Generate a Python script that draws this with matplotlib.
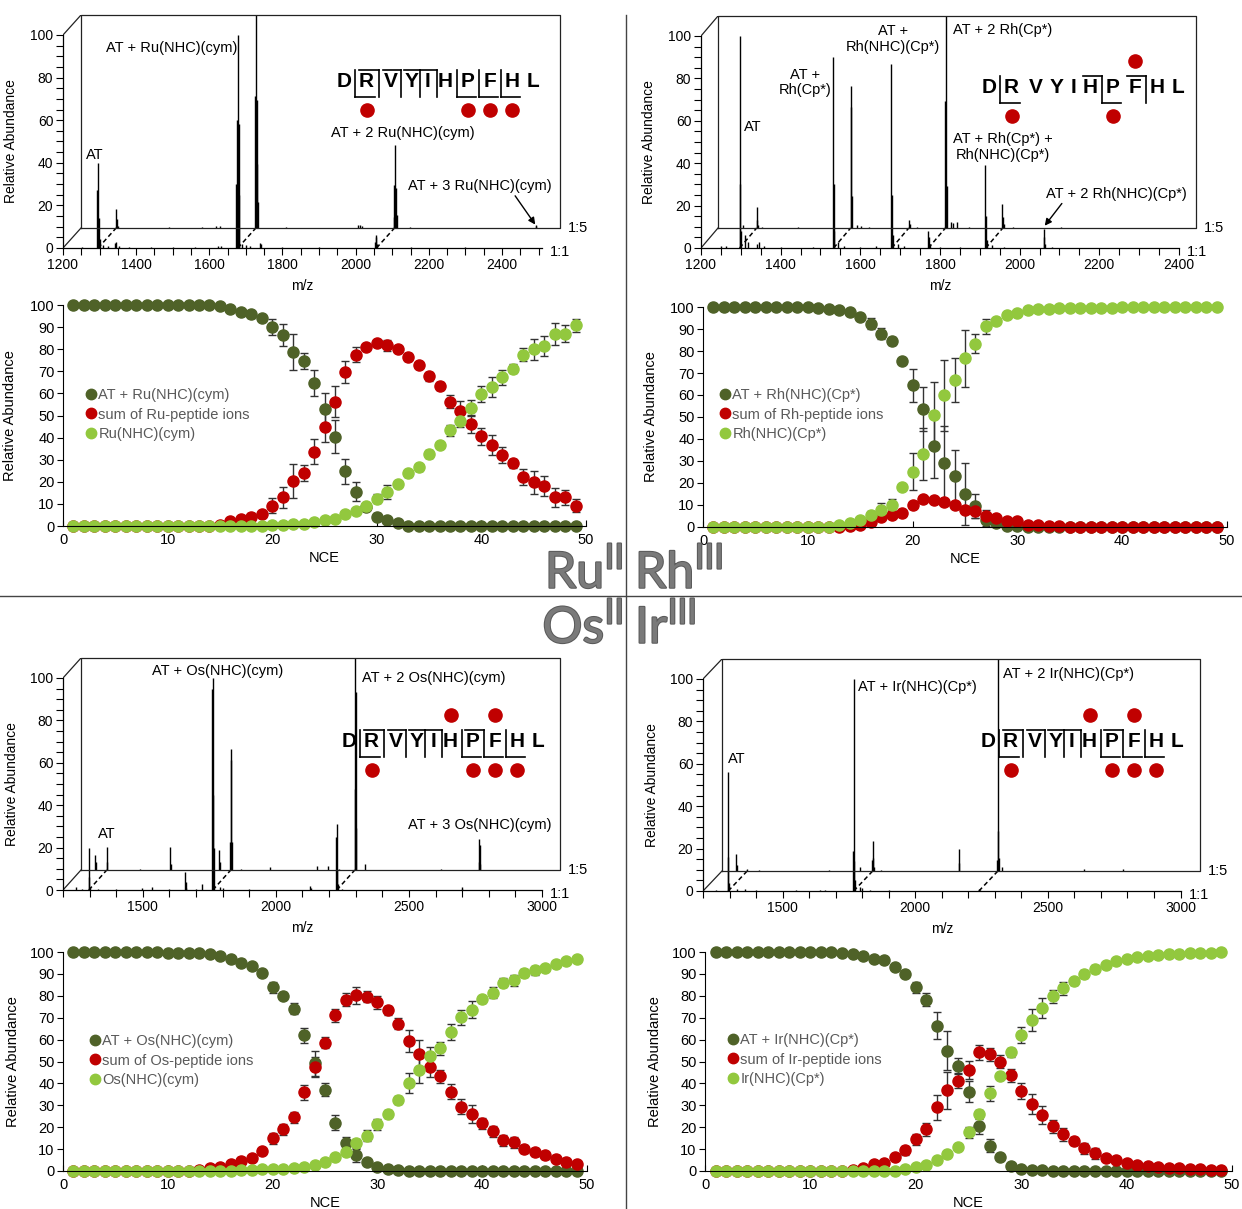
import numpy as np
import matplotlib
matplotlib.use('Agg')
import matplotlib.pyplot as plt
from matplotlib.lines import Line2D
import matplotlib.patheffects as pe

W, H = 1242, 1209
plt.rcParams['font.family'] = ['Liberation Sans', 'DejaVu Sans']

DARK = '#4f6228'
RED = '#c00000'
LIGHT = '#92c83e'

nce = np.arange(1, 50)

# ---------------- NCE curves (NCE 1..49) ----------------
ru_at = [100, 100, 100, 100, 100, 100, 100, 100, 100, 100,
         100, 100, 100, 100, 99.5, 98, 97, 95.8, 94, 90,
         86.4, 78.8, 74.7, 64.8, 53.1, 40.4, 24.7, 15.6, 8.8, 4.2,
         2.7, 1.2, 0, 0, 0, 0, 0, 0, 0, 0,
         0, 0, 0, 0, 0, 0, 0, 0, 0]
ru_at_err = [0, 0, 0, 0, 0, 0, 0, 0, 0, 0,
             0, 0, 0, 0, 0, 0, 0, 1.5, 1, 3.8,
             5, 8.3, 3.5, 6, 7, 7.5, 5.7, 4.2, 1.5, 1.5,
             1, 0, 0, 0, 0, 0, 0, 0, 0, 0,
             0, 0, 0, 0, 0, 0, 0, 0, 0]
ru_pep = [0, 0, 0, 0, 0, 0, 0, 0, 0, 0,
          0, 0, 0, 0, 0.5, 2.3, 3, 4.2, 5.3, 9.2,
          13, 20.4, 23.9, 33.7, 44.6, 56.3, 69.6, 77.5, 81, 82.8,
          81.7, 79.9, 76.4, 73, 67.8, 63.2, 56.3, 51.9, 46.1, 40.5,
          36.8, 32.2, 28.3, 22.1, 19.7, 18.2, 12.9, 12.9, 9.2]
ru_pep_err = [0, 0, 0, 0, 0, 0, 0, 0, 0, 0,
              0, 0, 0, 0, 0, 0, 0, 1.5, 1, 3.5,
              4.8, 7.8, 3.5, 5.5, 6.5, 7, 5, 3.5, 1, 1.5,
              2.5, 1, 1.8, 1, 2, 1.8, 3, 4.5, 4, 4,
              4.5, 3.5, 2, 3.5, 5, 4.5, 4.5, 3.5, 3]
ru_free = [0, 0, 0, 0, 0, 0, 0, 0, 0, 0,
           0, 0, 0, 0, 0, 0, 0, 0, 0.2, 0.4,
           0.5, 1, 1.1, 1.7, 2.7, 3, 5.3, 6.8, 9.1, 12.4,
           15.4, 18.9, 23.8, 26.5, 32.4, 36.6, 43.4, 47.7, 53.3, 59.8,
           62.8, 67.3, 71.1, 77.5, 79.9, 81.4, 86.7, 87.1, 90.8]
ru_free_err = [0, 0, 0, 0, 0, 0, 0, 0, 0, 0,
               0, 0, 0, 0, 0, 0, 0, 0, 0, 0,
               0, 0, 0, 0, 0, 0, 0, 0, 1.5, 2,
               3, 1, 1.5, 1.5, 1.8, 1.5, 2.5, 3, 3.5, 3.5,
               4.5, 3.5, 2, 3, 4.8, 4.5, 5, 3.8, 3]

rh_at = [100, 100, 100, 100, 100, 100, 100, 100, 100, 100,
         99.5, 99, 98.5, 97.7, 95.5, 92.4, 87.9, 84.6, 75.4, 64.5,
         53.6, 36.6, 29, 23, 15.1, 9.4, 3.3, 1.8, 0.6, 0.3,
         0, 0, 0, 0, 0, 0, 0, 0, 0, 0,
         0, 0, 0, 0, 0, 0, 0, 0, 0]
rh_at_err = [0, 0, 0, 0, 0, 0, 0, 0, 0, 0,
             0, 0, 0, 0, 0, 2.5, 2.5, 1.8, 0, 7.5,
             10, 14.5, 17, 12, 14, 5.5, 3, 0, 0, 0,
             0, 0, 0, 0, 0, 0, 0, 0, 0, 0,
             0, 0, 0, 0, 0, 0, 0, 0, 0]
rh_pep = [0, 0, 0, 0, 0, 0, 0, 0, 0, 0,
          0, 0, 0.2, 0.5, 1, 2.3, 4.4, 5.6, 6.3, 10.1,
          12.7, 12.4, 11.2, 10.1, 7.9, 7.1, 5.1, 4.1, 2.9, 2.6,
          0.9, 0.8, 0.6, 0.3, 0.2, 0.2, 0.2, 0.2, 0.2, 0.2,
          0.2, 0.2, 0.2, 0.2, 0.2, 0.2, 0.2, 0.2, 0.2]
rh_pep_err = [0, 0, 0, 0, 0, 0, 0, 0, 0, 0,
              0, 0, 0, 0, 0, 0, 0, 0, 0, 0,
              1.5, 1, 0, 0, 0, 3, 2.5, 1.5, 0, 0,
              0, 0, 0, 0, 0, 0, 0, 0, 0, 0,
              0, 0, 0, 0, 0, 0, 0, 0, 0]
rh_free = [0, 0, 0, 0, 0, 0, 0, 0, 0, 0,
           0, 0.1, 0.8, 1.8, 3.3, 5.3, 7.9, 10.1, 18.1, 25.2,
           33.2, 50.9, 59.8, 66.6, 76.7, 83.4, 91.2, 93.7, 96.5, 97.4,
           98.8, 99, 99, 99.5, 99.5, 99.6, 99.7, 99.7, 99.7, 99.8,
           99.8, 99.8, 99.8, 99.9, 99.9, 99.9, 99.9, 99.9, 99.9]
rh_free_err = [0, 0, 0, 0, 0, 0, 0, 0, 0, 0,
               0, 0, 0, 0, 0, 1.8, 3, 2.5, 0, 8.5,
               12, 15, 16, 10, 13, 4.5, 3.5, 1.5, 0, 0,
               0, 0, 0, 0, 0, 0, 0, 0, 0, 0,
               0, 0, 0, 0, 0, 0, 0, 0, 0]

os_at = [100, 100, 100, 100, 100, 100, 100, 100, 100, 99.7,
         99.7, 99.7, 99.6, 98.9, 98.2, 96.8, 95.1, 93.6, 90.4, 84,
         80.1, 74, 62, 49.1, 37.2, 22, 12.9, 7.1, 4, 1.7,
         0.8, 0.4, 0, 0, 0, 0, 0, 0, 0, 0,
         0, 0, 0, 0, 0, 0, 0, 0, 0]
os_at_err = [0, 0, 0, 0, 0, 0, 0, 0, 0, 0,
             0, 0, 0, 0, 0, 0, 1.5, 1, 1, 2.5,
             1.5, 2.5, 3.5, 5.5, 3, 3.5, 2.5, 3, 1, 0.5,
             0, 0, 0, 0, 0, 0, 0, 0, 0, 0,
             0, 0, 0, 0, 0, 0, 0, 0, 0]
os_pep = [0, 0, 0, 0, 0, 0, 0, 0, 0, 0,
          0.1, 0.2, 0.5, 1.4, 1.8, 3, 4.6, 5.9, 9, 15,
          19, 24.6, 35.9, 47.6, 58.5, 71.1, 78.3, 80.2, 79.5, 77,
          73.4, 67.3, 59.4, 53.6, 47.3, 43.3, 36.2, 29.3, 26.1, 21.9,
          18.2, 14.1, 13.1, 10, 8.7, 7.1, 5.6, 4.1, 3.2]
os_pep_err = [0, 0, 0, 0, 0, 0, 0, 0, 0, 0,
              0, 0, 0, 0, 0, 0, 2, 1.5, 1, 2.5,
              2.5, 2.5, 3.5, 4.5, 2.5, 3, 3, 4, 2.5, 3,
              2, 2.5, 5, 6, 4.5, 3, 3.5, 3.5, 4, 2.5,
              2.5, 2.5, 2.5, 2, 2, 1.5, 1.5, 1.5, 1.5]
os_free = [0, 0, 0, 0, 0, 0, 0, 0, 0, 0,
           0, 0, 0, 0, 0.1, 0.2, 0.3, 0.5, 0.7, 0.7,
           0.8, 1.4, 2, 2.9, 4, 6.5, 8.8, 12.6, 16.1, 21.3,
           26, 32.4, 40.3, 46.1, 52.4, 56.1, 63.4, 70.2, 73.7, 78.4,
           81.5, 85.9, 87.1, 90.4, 91.6, 92.7, 94.4, 95.9, 97]
os_free_err = [0, 0, 0, 0, 0, 0, 0, 0, 0, 0,
               0, 0, 0, 0, 0, 0, 0, 0, 0, 0,
               0, 0, 0, 0, 0, 0, 0, 2, 2.5, 2.5,
               1.8, 2, 4.5, 6, 4, 3, 3.5, 3.5, 4, 1.5,
               2.5, 2, 2.5, 2, 2, 1, 1, 1.5, 1]

ir_at = [100, 100, 100, 100, 100, 100, 100, 100, 100, 100,
         100, 100, 99.5, 99, 98, 96.8, 96.2, 93.1, 90, 84,
         78.3, 66.4, 55, 47.9, 36.3, 20.5, 11.6, 6.4, 2.1, 1.1,
         0.5, 0.3, 0, 0, 0, 0, 0, 0, 0, 0,
         0, 0, 0, 0, 0, 0, 0, 0, 0]
ir_at_err = [0, 0, 0, 0, 0, 0, 0, 0, 0, 0,
             0, 0, 0, 0, 0, 0, 0, 0, 1.5, 2.5,
             3, 6, 9, 3.5, 5, 3.5, 3, 0, 0, 0,
             0, 0, 0, 0, 0, 0, 0, 0, 0, 0,
             0, 0, 0, 0, 0, 0, 0, 0, 0]
ir_pep = [0, 0, 0, 0, 0, 0, 0, 0, 0, 0,
          0, 0, 0.2, 0.6, 1.5, 3.1, 3.8, 6.6, 9.5, 14.5,
          19.1, 29, 36.9, 41.2, 46.1, 54.2, 53.3, 49.9, 43.8, 36.6,
          30.7, 25.5, 20.5, 16.8, 13.7, 10.4, 8.2, 6, 4.9, 3.7,
          2.6, 2.1, 1.8, 1.5, 1.4, 0.9, 0.8, 0.6, 0.6]
ir_pep_err = [0, 0, 0, 0, 0, 0, 0, 0, 0, 0,
              0, 0, 0, 0, 0, 0, 0, 0, 2, 2.5,
              3, 5.5, 8.5, 3.5, 4, 3.5, 3, 3, 3, 3.5,
              4.5, 4, 3, 3, 2, 2.5, 2.5, 0, 0, 0,
              0, 0, 0, 0, 0, 0, 0, 0, 0]
ir_free = [0, 0, 0, 0, 0, 0, 0, 0, 0, 0,
           0, 0, 0, 0, 0, 0, 0, 0.1, 0.8, 1.8,
           2.6, 4.9, 7.9, 11, 17.6, 25.8, 35.4, 43.5, 54.2, 62.1,
           69, 74.5, 79.7, 83.4, 86.6, 90, 92.2, 94, 95.7, 96.8,
           97.7, 98, 98.5, 98.9, 99.2, 99.5, 99.6, 99.7, 99.8]
ir_free_err = [0, 0, 0, 0, 0, 0, 0, 0, 0, 0,
               0, 0, 0, 0, 0, 0, 0, 0, 0, 0,
               0, 0, 0, 0, 2.5, 2, 3.5, 0, 2, 3.5,
               5, 4.5, 3, 3, 1.5, 2, 2, 1.5, 0, 0,
               0, 0, 0, 0, 0, 0, 0, 0, 0]

# ---------------- mass spectra: front trace = 1:1, back trace = 1:5 ----------------
ru_front_mz = [1251, 1294, 1296, 1298, 1300, 1310, 1322, 1341, 1346, 1352, 1380, 1440, 1500, 1560,
               1625, 1632, 1674, 1676, 1678, 1680, 1682, 1690, 1700, 1712, 1738, 1741, 1800, 1900,
               2053, 2055, 2057, 2059, 2150, 2300]
ru_front_ab = [0.5, 27, 40, 14, 4, 1.5, 1, 2.5, 3, 1, 0.5, 0.5, 0.5, 0.5,
               1, 1, 30, 60, 100, 58, 25, 2, 1.5, 1, 2.5, 2, 0.4, 0.4,
               3, 6, 5, 2, 0.4, 0.3]
ru_back_mz = [1296, 1298, 1300, 1440, 1530, 1570, 1580, 1676, 1678, 1680, 1682, 1684, 1760,
              1957, 1962, 1967, 2055, 2057, 2059, 2061, 2063, 2100, 2443, 2445]
ru_back_ab = [9, 4, 1, 0.5, 0.5, 1, 1, 62, 100, 60, 30, 12, 0.5,
              1.2, 1.2, 1, 5, 20, 39, 19, 6, 0.5, 1.5, 1]
ru_links = [1296, 1678, 2057]

rh_front_mz = [1250, 1264, 1297, 1299, 1301, 1310, 1318, 1340, 1345, 1358, 1400, 1480,
               1531, 1533, 1535, 1545, 1560, 1600, 1640, 1678, 1680, 1682, 1695, 1710,
               1770, 1772, 1774, 1800, 1850, 1914, 1916, 1918, 1930, 1960, 2060, 2062, 2064, 2080]
rh_front_ab = [1, 1, 100, 30, 8, 6, 3, 2, 3, 1, 0.5, 0.5,
               90, 30, 8, 3, 1, 0.5, 0.8, 87, 25, 6, 2, 1,
               8, 5, 2, 0.5, 0.5, 39, 15, 4, 1.5, 0.5, 9, 5, 2, 0.5]
rh_back_mz = [1263, 1297, 1299, 1301, 1310, 1400, 1533, 1535, 1537, 1550, 1560, 1580,
              1680, 1682, 1700, 1770, 1772, 1774, 1786, 1790, 1800, 1830, 1914, 1916, 1918, 1940, 2060]
rh_back_ab = [1.5, 10, 4, 1.5, 0.5, 0.3, 67, 57, 15, 1.5, 1, 0.5,
              4, 2, 0.5, 60, 100, 20, 3, 2.5, 3, 0.5, 11.5, 5, 2, 0.5, 0.5]
rh_links = [1297, 1533, 1679, 1771, 1915]

os_front_mz = [1250, 1270, 1297, 1299, 1301, 1330, 1400, 1496, 1533, 1600, 1660, 1662, 1664,
               1700, 1722, 1761, 1763, 1765, 1767, 1790, 1800, 1900, 2129, 2131,
               2226, 2228, 2230, 2232, 2250, 2698, 2700]
os_front_ab = [1.3, 0.5, 20, 6, 1.5, 0.5, 0.5, 1, 1.6, 0.5, 8.7, 4, 1,
               0.5, 3, 95, 100, 45, 20, 1.5, 1, 0.4, 2, 1,
               25, 31, 10, 3, 0.5, 1.3, 0.5]
os_back_mz = [1253, 1255, 1297, 1299, 1420, 1535, 1537, 1719, 1721, 1761, 1763, 1765, 1767,
              1800, 1911, 2086, 2128, 2170, 2228, 2230, 2232, 2234, 2268, 2553, 2695, 2697, 2699, 2701]
os_back_ab = [7, 4, 11, 4, 0.3, 11, 3, 9.5, 4, 13, 57, 52, 13,
              0.5, 1.5, 2, 2, 0.5, 38, 100, 84, 20, 2.7, 0.5, 4, 14.6, 12, 3]
os_links = [1297, 1763, 2229]

ir_front_mz = [1250, 1294, 1296, 1298, 1330, 1360, 1400, 1550, 1640, 1660, 1766, 1768, 1770, 1772,
               1790, 1800, 1830, 1900, 2240, 2243]
ir_front_ab = [0.5, 56, 16, 4, 1, 1, 0.5, 0.5, 0.5, 0.5, 19, 100, 14, 5,
               2, 1.5, 0.5, 0.3, 1, 0.5]
ir_back_mz = [1253, 1255, 1296, 1340, 1602, 1722, 1766, 1768, 1770, 1772, 1800, 2093, 2095,
              2238, 2240, 2242, 2244, 2256, 2566, 2711]
ir_back_ab = [8, 3, 1, 0.5, 0.5, 2, 5, 14, 6, 2, 0.5, 10.5, 4,
              5, 100, 19, 6, 2, 1, 1]
ir_links = [1295, 1768, 2240]

fig = plt.figure(figsize=(W / 100, H / 100), dpi=100)


def px_axes(left, top, right, bottom):
    return fig.add_axes([left / W, 1 - bottom / H, (right - left) / W, (bottom - top) / H])


def draw_spectrum(x0, y0, y100, mz_lo, mz_end, ppm, off, major, minor_step,
                  front_mz, front_ab, back_mz, back_ab, links, labels, ylab_x, arrow=None):
    ppa = (y0 - y100) / 100.0
    dmz, dab = off[0] / ppm, off[1] / ppa
    right = x0 + (mz_end - mz_lo) * ppm + off[0]
    top = y100 - off[1]
    ax = px_axes(x0, top, right, y0)
    ax.set_xlim(mz_lo, mz_end + dmz)
    ax.set_ylim(0, 100 + dab)
    ax.patch.set_alpha(0)

    ax.vlines(front_mz, 0, front_ab, color='k', lw=1)
    ax.vlines(np.array(back_mz) + dmz, dab, dab + np.array(back_ab), color='k', lw=1)
    for m in links:
        ax.plot([m, m + dmz], [0, dab], color='k', ls=(0, (3, 2)), lw=1.1)

    bx = [mz_lo + dmz, mz_lo + dmz, mz_end + dmz, mz_end + dmz, mz_lo + dmz]
    by = [dab, 100 + dab, 100 + dab, dab, dab]
    ax.plot(bx, by, color='#222222', lw=0.9, clip_on=False)
    ax.plot([mz_lo, mz_lo + dmz], [0, dab], color='#222222', lw=0.9)
    ax.plot([mz_lo, mz_lo + dmz], [100, 100 + dab], color='#222222', lw=0.9)

    for s in ['top', 'right']:
        ax.spines[s].set_visible(False)
    ax.spines['left'].set_bounds(0, 100)
    ax.spines['bottom'].set_bounds(mz_lo, mz_end)
    for s in ['left', 'bottom']:
        ax.spines[s].set_linewidth(0.9)
    ax.set_xticks(major)
    ax.set_xticks(np.arange(mz_lo, mz_end + 1, minor_step), minor=True)
    ax.set_yticks(np.arange(0, 101, 20))
    ax.set_yticks(np.arange(0, 101, 5), minor=True)
    ax.tick_params(which='both', direction='out', length=5, width=0.8, labelsize=10, pad=2)

    ax.text(mz_end + dmz + 8 / ppm, dab, '1:5', ha='left', va='center', fontsize=10.5)
    ax.text(mz_end + 8 / ppm, -2, '1:1', ha='left', va='center', fontsize=10.5)
    for txt, m, a, ha in labels:
        ax.text(m, a, txt, ha=ha, va='center', fontsize=10.5, linespacing=1.15)
    if arrow is not None:
        ax.annotate('', xy=arrow[1], xytext=arrow[0],
                    arrowprops=dict(arrowstyle='-|>', color='k', lw=1, mutation_scale=10,
                                    shrinkA=0, shrinkB=0))

    ax.set_xlabel('m/z', fontsize=10, labelpad=3)
    ax.xaxis.set_label_coords((mz_end - mz_lo) * ppm / 2 / (right - x0), -0.135)
    ax.set_ylabel('Relative Abundance', fontsize=10)
    ax.yaxis.set_label_coords((ylab_x - x0) / (right - x0), (y0 - (y0 + y100) / 2) / (y0 - top))
    return ax


def draw_nce(left, x50, y0, y100, series, names, leg_xy, ylab_x):
    ax = px_axes(left, y100, x50, y0)
    ax.set_xlim(0, 50)
    ax.set_ylim(0, 100)
    ax.patch.set_alpha(0)
    for vals, err, col in series:
        eb = ax.errorbar(nce, vals, yerr=err, fmt='o', ms=8, color=col, mec=col,
                         ecolor='#333333', elinewidth=1, capsize=3, capthick=1)
        eb[0].set_clip_on(False)
        for art in list(eb[1]) + list(eb[2]):
            art.set_clip_on(False)
    for s in ['top', 'right']:
        ax.spines[s].set_visible(False)
    ax.set_xticks(np.arange(0, 51, 10))
    ax.set_yticks(np.arange(0, 101, 10))
    ax.tick_params(axis='y', direction='out', length=4, labelsize=10.5, pad=2)
    ax.tick_params(axis='x', direction='in', length=4, labelsize=10.5, pad=5)
    ax.set_xlabel('NCE', fontsize=10.5, labelpad=3)
    ax.set_ylabel('Relative Abundance', fontsize=10.5)
    ax.yaxis.set_label_coords((ylab_x - left) / (x50 - left), 0.5)
    handles = [Line2D([], [], marker='o', ls='', color=c, ms=7.5) for _, _, c in series]
    ax.legend(handles, names, loc='upper left', bbox_to_anchor=(leg_xy[0] / W, 1 - leg_xy[1] / H),
              bbox_transform=fig.transFigure, frameon=False, fontsize=10.5, handlelength=0.7,
              handletextpad=0.15, labelspacing=0.38, borderpad=0, borderaxespad=0,
              labelcolor='#595959')
    return ax


# spectra
draw_spectrum(63, 248, 35, 1200, 2509, 0.3658, (18, 20), [1200, 1400, 1600, 1800, 2000, 2200, 2400], 50,
              ru_front_mz, ru_front_ab, ru_back_mz, ru_back_ab, ru_links,
              [('AT + Ru(NHC)(cym)', 1498, 94, 'center'), ('AT', 1287, 43.5, 'center'),
               ('AT + 2 Ru(NHC)(cym)', 2129, 54, 'center'), ('AT + 3 Ru(NHC)(cym)', 2340, 29, 'center')],
              18, arrow=((2436, 24.5), (2491, 11)))
draw_spectrum(701, 248, 36, 1200, 2400, 0.3983, (17, 20), [1200, 1400, 1600, 1800, 2000, 2200, 2400], 50,
              rh_front_mz, rh_front_ab, rh_back_mz, rh_back_ab, rh_links,
              [('AT', 1331, 57, 'center'), ('AT +\nRh(Cp*)', 1461, 78, 'center'),
               ('AT +\nRh(NHC)(Cp*)', 1682, 98.5, 'center'), ('AT + 2 Rh(Cp*)', 1833, 102.8, 'left'),
               ('AT + Rh(Cp*) +\nRh(NHC)(Cp*)', 1958, 47.5, 'center'),
               ('AT + 2 Rh(NHC)(Cp*)', 2244, 25.5, 'center')],
              656, arrow=((2106, 21), (2063, 10.5)))
draw_spectrum(63, 890, 678, 1200, 3000, 0.2661, (18, 20), [1500, 2000, 2500, 3000], 100,
              os_front_mz, os_front_ab, os_back_mz, os_back_ab, os_links,
              [('AT + Os(NHC)(cym)', 1782, 103.3, 'center'), ('AT', 1365, 26.4, 'center'),
               ('AT + 2 Os(NHC)(cym)', 2324, 100, 'left'), ('AT + 3 Os(NHC)(cym)', 2767, 30.7, 'center')],
              19)
draw_spectrum(703, 891, 679, 1200, 3000, 0.2653, (19, 20), [1500, 2000, 2500, 3000], 100,
              ir_front_mz, ir_front_ab, ir_back_mz, ir_back_ab, ir_links,
              [('AT', 1328, 62.3, 'center'), ('AT + Ir(NHC)(Cp*)', 1784, 96, 'left'),
               ('AT + 2 Ir(NHC)(Cp*)', 2331, 102.4, 'left')],
              659)

# NCE breakdown curves
draw_nce(63, 586, 526, 305, [(ru_at, ru_at_err, DARK), (ru_pep, ru_pep_err, RED), (ru_free, ru_free_err, LIGHT)],
         ['AT + Ru(NHC)(cym)', 'sum of Ru-peptide ions', 'Ru(NHC)(cym)'], (86, 388), 17)
draw_nce(703, 1227, 527, 307, [(rh_at, rh_at_err, DARK), (rh_pep, rh_pep_err, RED), (rh_free, rh_free_err, LIGHT)],
         ['AT + Rh(NHC)(Cp*)', 'sum of Rh-peptide ions', 'Rh(NHC)(Cp*)'], (720, 388), 658)
draw_nce(63, 587, 1171, 952, [(os_at, os_at_err, DARK), (os_pep, os_pep_err, RED), (os_free, os_free_err, LIGHT)],
         ['AT + Os(NHC)(cym)', 'sum of Os-peptide ions', 'Os(NHC)(cym)'], (90, 1034), 20)
draw_nce(705, 1232, 1171, 952, [(ir_at, ir_at_err, DARK), (ir_pep, ir_pep_err, RED), (ir_free, ir_free_err, LIGHT)],
         ['AT + Ir(NHC)(Cp*)', 'sum of Ir-peptide ions', 'Ir(NHC)(Cp*)'], (728, 1033), 662)

# overlay in pixel coordinates: dividers, sequences, metal labels
ov = fig.add_axes([0, 0, 1, 1])
ov.set_xlim(0, W)
ov.set_ylim(H, 0)
ov.axis('off')
ov.plot([626, 626], [15, H], color='#444444', lw=1)
ov.plot([0, W], [596, 596], color='#444444', lw=1)

seq_offsets = [0, 22.5, 46.5, 68, 84, 101.5, 124, 146, 168, 189]


def draw_sequence(x0, base, brackets, dots_up, dots_down):
    xs = [x0 + o for o in seq_offsets]
    for x, ch in zip(xs, 'DRVYIHPFHL'):
        ov.text(x, base, ch, ha='center', va='baseline', fontsize=15, fontweight='bold')
    top, bot = base - 17, base + 10
    for gap, kind in brackets:
        gx = (xs[gap] + xs[gap + 1]) / 2
        ov.plot([gx, gx], [top, bot], color='k', lw=1.2)
        if 'b' in kind:
            ov.plot([gx, xs[gap] - 8], [top, top], color='k', lw=1.2)
        if 'y' in kind:
            ov.plot([gx, xs[gap + 1] + 8], [bot, bot], color='k', lw=1.2)
    for i in dots_up:
        ov.plot(xs[i], base - 32, 'o', ms=9.5, color=RED)
    for i in dots_down:
        ov.plot(xs[i], base + 23, 'o', ms=9.5, color=RED)


draw_sequence(344, 87, [(0, 'y'), (1, 'b'), (2, 'b'), (3, 'b'), (4, 'b'), (5, 'y'), (6, 'y'), (7, 'y')],
              [], [1, 6, 7, 8])
draw_sequence(989, 93, [(0, 'y'), (5, 'by'), (7, 'b')], [7], [1, 6])
draw_sequence(349, 747, [(0, 'y'), (1, 'b'), (2, 'b'), (3, 'b'), (4, 'b'), (5, 'y'), (6, 'by'), (7, 'y')],
              [5, 7], [1, 6, 7, 8])
draw_sequence(988, 747, [(0, 'y'), (1, 'b'), (2, 'b'), (3, 'b'), (4, 'b'), (5, 'y'), (6, 'by'), (7, 'y')],
              [5, 7], [1, 6, 7, 8])

big = dict(fontsize=36, color='#7a7a7a', family=['Lato', 'DejaVu Sans'],
           path_effects=[pe.withStroke(linewidth=1.5, foreground='#5a5a5a')])
ov.text(623, 588, r'Ru$^{\mathregular{II}}$', ha='right', va='baseline', **big)
ov.text(635, 588, r'Rh$^{\mathregular{III}}$', ha='left', va='baseline', **big)
ov.text(623, 643, r'Os$^{\mathregular{II}}$', ha='right', va='baseline', **big)
ov.text(635, 643, r'Ir$^{\mathregular{III}}$', ha='left', va='baseline', **big)

fig.savefig('out.png', dpi=100)
